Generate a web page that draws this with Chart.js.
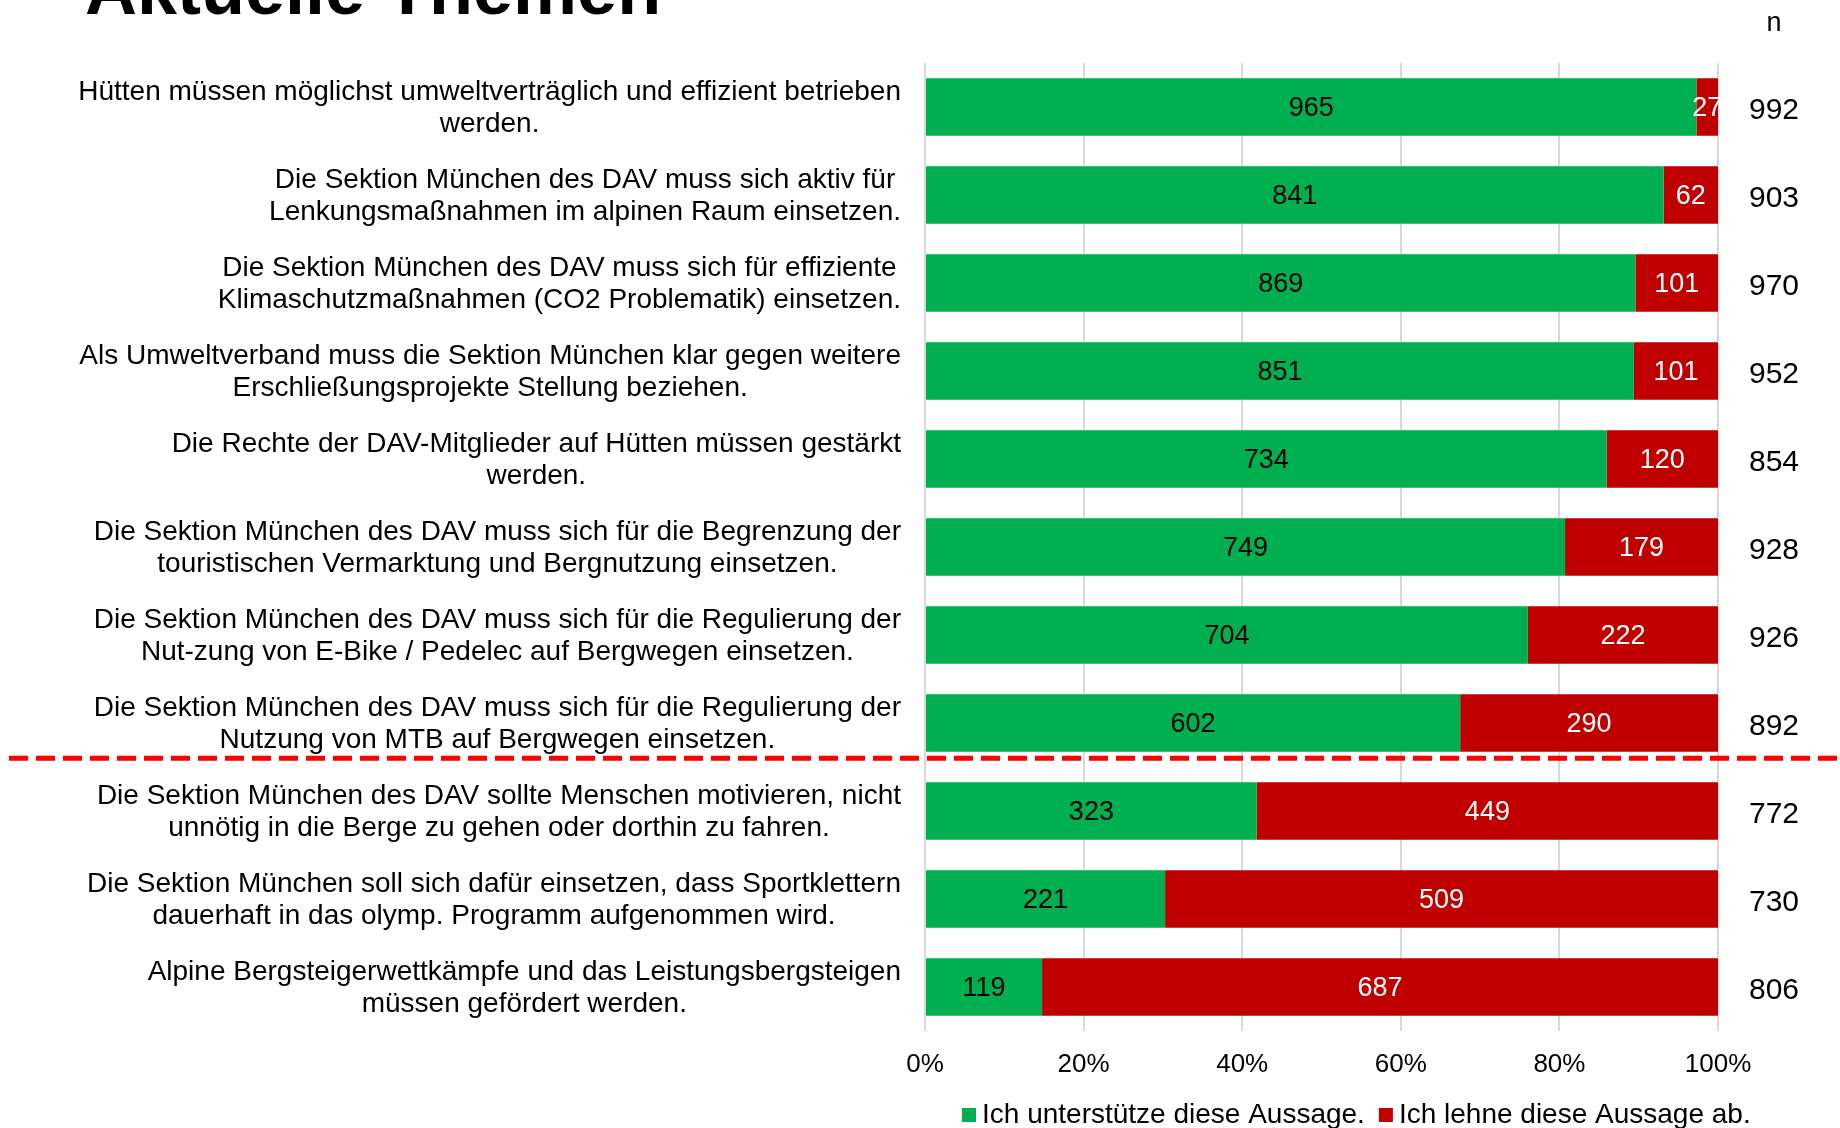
<!DOCTYPE html>
<html lang="de">
<head>
<meta charset="utf-8">
<title>Aktuelle Themen</title>
<script src="https://cdn.jsdelivr.net/npm/chart.js@4.4.1/dist/chart.umd.min.js"></script>
<style>
  html, body { margin: 0; padding: 0; background: #fff; }
  #wrap { position: relative; width: 1840px; height: 1128px; overflow: hidden; }
</style>
</head>
<body>
<div id="wrap"><canvas id="chart" width="1840" height="1128"></canvas></div>
<script>
// ============== Data ==============
const STATEMENTS = [
  ["Hütten müssen möglichst umweltverträglich und effizient betrieben", "werden."],
  ["Die Sektion München des DAV muss sich aktiv für", "Lenkungsmaßnahmen im alpinen Raum einsetzen."],
  ["Die Sektion München des DAV muss sich für effiziente", "Klimaschutzmaßnahmen (CO2 Problematik) einsetzen."],
  ["Als Umweltverband muss die Sektion München klar gegen weitere", "Erschließungsprojekte Stellung beziehen."],
  ["Die Rechte der DAV-Mitglieder auf Hütten müssen gestärkt", "werden."],
  ["Die Sektion München des DAV muss sich für die Begrenzung der", "touristischen Vermarktung und Bergnutzung einsetzen."],
  ["Die Sektion München des DAV muss sich für die Regulierung der", "Nut-zung von E-Bike / Pedelec auf Bergwegen einsetzen."],
  ["Die Sektion München des DAV muss sich für die Regulierung der", "Nutzung von MTB auf Bergwegen einsetzen."],
  ["Die Sektion München des DAV sollte Menschen motivieren, nicht", "unnötig in die Berge zu gehen oder dorthin zu fahren."],
  ["Die Sektion München soll sich dafür einsetzen, dass Sportklettern", "dauerhaft in das olymp. Programm aufgenommen wird."],
  ["Alpine Bergsteigerwettkämpfe und das Leistungsbergsteigen", "müssen gefördert werden."]
];
const SUPPORT = [965, 841, 869, 851, 734, 749, 704, 602, 323, 221, 119];
const REJECT  = [27, 62, 101, 101, 120, 179, 222, 290, 449, 509, 687];
const N_TOTAL = [992, 903, 970, 952, 854, 928, 926, 892, 772, 730, 806];
const SERIES_NAMES = ["Ich unterstütze diese Aussage.", "Ich lehne diese Aussage ab."];
const X_TICKS = [0, 20, 40, 60, 80, 100];
const TITLE = "Aktuelle Themen";
const N_HEADER = "n";
const DIVIDER_AT = 7.4; // between statement 8 and 9

const GREEN = "#00b050";
const RED = "#c00000";
const FONT = "'Liberation Sans', Arial, Helvetica, sans-serif";

// percentages for the 100% stacked bars
const pctSupport = SUPPORT.map((v, i) => v / (v + REJECT[i]) * 100);
const pctReject = REJECT.map((v, i) => v / (SUPPORT[i] + v) * 100);

// ============== Plugins ==============
const statementLabels = {
  id: "statementLabels",
  afterDraw(chart) {
    const { ctx } = chart;
    const y = chart.scales.y;
    const right = chart.chartArea.left - 24;
    const lh = 32;
    ctx.save();
    ctx.font = `28px ${FONT}`;
    ctx.fillStyle = "#000";
    ctx.textAlign = "center";
    ctx.textBaseline = "middle";
    STATEMENTS.forEach((lines, i) => {
      const w = Math.max(...lines.map(l => ctx.measureText(l).width));
      const cx = right - w / 2;
      const cy = y.getPixelForValue(i) + 1;
      lines.forEach((l, k) => {
        ctx.fillText(l, cx, cy + (k - (lines.length - 1) / 2) * lh);
      });
    });
    ctx.restore();
  }
};

const barValues = {
  id: "barValues",
  afterDatasetsDraw(chart) {
    const { ctx } = chart;
    const counts = [SUPPORT, REJECT];
    const colors = ["#000", "#fff"];
    ctx.save();
    ctx.font = `27px ${FONT}`;
    ctx.textAlign = "center";
    ctx.textBaseline = "middle";
    chart.data.datasets.forEach((ds, d) => {
      chart.getDatasetMeta(d).data.forEach((el, i) => {
        const { x, base, y } = el.getProps(["x", "base", "y"], true);
        ctx.fillStyle = colors[d];
        ctx.fillText(String(counts[d][i]), (x + base) / 2, y + 2);
      });
    });
    ctx.restore();
  }
};

const sideColumn = {
  id: "sideColumn",
  afterDraw(chart) {
    const { ctx } = chart;
    const y = chart.scales.y;
    const cx = 1774;
    ctx.save();
    ctx.fillStyle = "#000";
    ctx.textAlign = "center";
    ctx.textBaseline = "middle";
    ctx.font = `30px ${FONT}`;
    N_TOTAL.forEach((n, i) => ctx.fillText(String(n), cx, y.getPixelForValue(i) + 4));
    ctx.font = `27px ${FONT}`;
    ctx.fillText(N_HEADER, cx, 24);
    ctx.restore();
  }
};

const titleAndDivider = {
  id: "titleAndDivider",
  afterDraw(chart) {
    const { ctx } = chart;
    const y = chart.scales.y.getPixelForValue(DIVIDER_AT);
    ctx.save();
    // title (mostly cut off at the top edge)
    ctx.font = `bold 72px ${FONT}`;
    ctx.fillStyle = "#000";
    ctx.textAlign = "left";
    ctx.textBaseline = "alphabetic";
    ctx.fillText(TITLE, 85, 14);
    // red dashed separator
    ctx.strokeStyle = "#ff0000";
    ctx.lineWidth = 5;
    ctx.setLineDash([19, 8]);
    ctx.beginPath();
    ctx.moveTo(9, y);
    ctx.lineTo(1840, y);
    ctx.stroke();
    ctx.restore();
  }
};

const bottomLegend = {
  id: "bottomLegend",
  afterDraw(chart) {
    const { ctx } = chart;
    const cy = 1115;
    const box = 14;
    let x = 962;
    ctx.save();
    ctx.font = `28px ${FONT}`;
    ctx.textAlign = "left";
    ctx.textBaseline = "middle";
    chart.data.datasets.forEach(ds => {
      ctx.fillStyle = ds.backgroundColor;
      ctx.fillRect(x, cy - box / 2, box, box);
      x += box + 6;
      ctx.fillStyle = "#000";
      ctx.fillText(ds.label, x, cy);
      x += ctx.measureText(ds.label).width + 14;
    });
    ctx.restore();
  }
};

// ============== Chart ==============
const ctx = document.getElementById("chart").getContext("2d");
new Chart(ctx, {
  type: "bar",
  data: {
    labels: STATEMENTS,
    datasets: [
      { label: SERIES_NAMES[0], data: pctSupport, backgroundColor: GREEN, borderWidth: 0 },
      { label: SERIES_NAMES[1], data: pctReject, backgroundColor: RED, borderWidth: 0 }
    ]
  },
  options: {
    indexAxis: "y",
    responsive: false,
    animation: false,
    devicePixelRatio: 1,
    layout: { padding: { left: 925, right: 122, top: 63, bottom: 0 } },
    datasets: { bar: { categoryPercentage: 1, barPercentage: 0.655 } },
    scales: {
      x: {
        stacked: true,
        min: 0,
        max: 100,
        afterBuildTicks: scale => { scale.ticks = X_TICKS.map(v => ({ value: v })); },
        afterFit: scale => { scale.height = 97; },
        ticks: {
          callback: v => v + "%",
          color: "#000",
          font: { family: FONT, size: 26 },
          padding: 18,
          maxRotation: 0
        },
        grid: { color: "#d9d9d9", lineWidth: 2, drawTicks: false },
        border: { display: false }
      },
      y: {
        stacked: true,
        display: false
      }
    },
    plugins: {
      legend: { display: false },
      tooltip: { enabled: false }
    }
  },
  plugins: [statementLabels, barValues, sideColumn, titleAndDivider, bottomLegend]
});
</script>
</body>
</html>
